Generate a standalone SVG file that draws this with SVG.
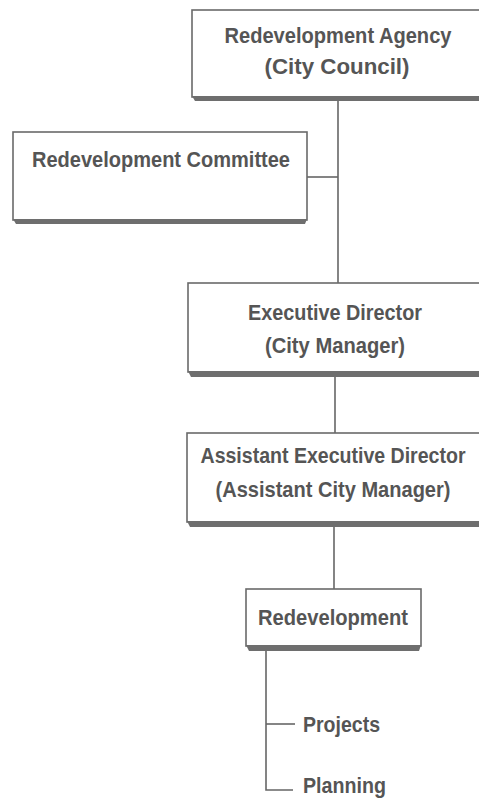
<svg xmlns="http://www.w3.org/2000/svg" width="479" height="803" viewBox="0 0 479 803">
<style>
.box{fill:#ffffff;stroke:#6a6a6a;stroke-width:1.6}
.sh{fill:#6e6e6e}
.t{font-family:"Liberation Sans Narrow","Liberation Sans",Arial,sans-serif;font-weight:bold;font-size:22.5px;fill:#555555;text-anchor:middle}
.ts{font-family:"Liberation Sans Narrow","Liberation Sans",Arial,sans-serif;font-weight:bold;font-size:22.5px;fill:#555555}
.c{stroke:#666666;stroke-width:1.6;fill:none}
</style>
<rect width="479" height="803" fill="#ffffff"/>
<g id="connectors">
<line class="c" x1="338" y1="100" x2="338" y2="283"/>
<line class="c" x1="307" y1="177" x2="338" y2="177"/>
<line class="c" x1="335" y1="376" x2="335" y2="433"/>
<line class="c" x1="334" y1="526" x2="334" y2="589"/>
<polyline class="c" points="266,650 266,790 293,790"/>
<line class="c" x1="266" y1="724" x2="295" y2="724"/>
</g>
<g id="agency">
<rect class="box" x="192" y="10" width="300" height="87"/>
<polygon class="sh" points="192,96 492,96 492,101 195,101"/>
<text class="t" x="338" y="43" textLength="227" lengthAdjust="spacingAndGlyphs">Redevelopment Agency</text>
<text class="t" x="337" y="74" textLength="145" lengthAdjust="spacingAndGlyphs">(City Council)</text>
</g>
<g id="committee">
<rect class="box" x="13" y="132" width="294" height="88"/>
<polygon class="sh" points="13,219 307,219 305,224 16,224"/>
<text class="t" x="161" y="167" textLength="258" lengthAdjust="spacingAndGlyphs">Redevelopment Committee</text>
</g>
<g id="executive">
<rect class="box" x="188" y="283" width="304" height="89"/>
<polygon class="sh" points="188,371 492,371 492,377 191,377"/>
<text class="t" x="335" y="320" textLength="174" lengthAdjust="spacingAndGlyphs">Executive Director</text>
<text class="t" x="335" y="353" textLength="140" lengthAdjust="spacingAndGlyphs">(City Manager)</text>
</g>
<g id="assistant">
<rect class="box" x="187" y="433" width="305" height="89"/>
<polygon class="sh" points="187,521 492,521 492,527 190,527"/>
<text class="t" transform="translate(333,463) scale(0.869,1)" x="0" y="0">Assistant Executive Director</text>
<text class="t" x="333" y="497" textLength="235" lengthAdjust="spacingAndGlyphs">(Assistant City Manager)</text>
</g>
<g id="redevelopment">
<rect class="box" x="246" y="589" width="175" height="57"/>
<polygon class="sh" points="246,645 421,645 419,651 249,651"/>
<text class="t" x="333" y="625" textLength="150" lengthAdjust="spacingAndGlyphs">Redevelopment</text>
</g>
<g id="projects">
<text class="ts" x="303" y="732" textLength="77" lengthAdjust="spacingAndGlyphs">Projects</text>
</g>
<g id="planning">
<text class="ts" x="303" y="793" textLength="83" lengthAdjust="spacingAndGlyphs">Planning</text>
</g>
</svg>
